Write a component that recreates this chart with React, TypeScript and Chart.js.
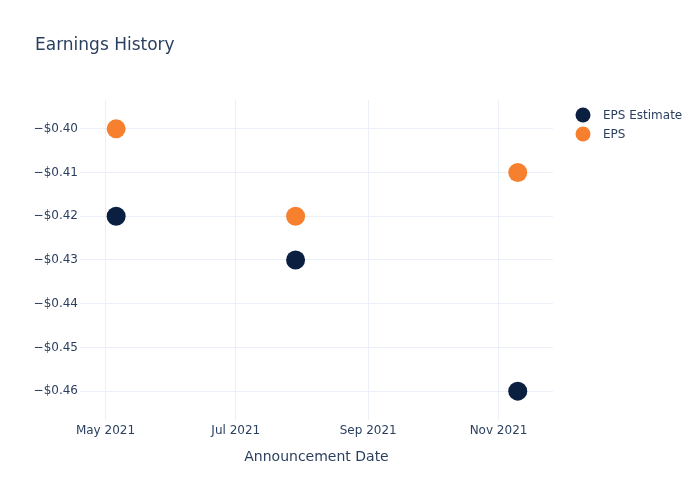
import React, { useEffect, useRef } from "react";
import { Chart, registerables } from "chart.js";

Chart.register(...registerables);

const announcementDates = ["2021-05-06", "2021-07-29", "2021-11-10"];
const epsEstimate = [-0.42, -0.43, -0.46];
const epsActual = [-0.4, -0.42, -0.41];
const seriesNames = ["EPS Estimate", "EPS"];
const seriesColors = ["#0b1f41", "#f7802f"];
const xTickDates = ["2021-05-01", "2021-07-01", "2021-09-01", "2021-11-01"];
const yTickValues = [-0.4, -0.41, -0.42, -0.43, -0.44, -0.45, -0.46];
const xRange = ["2021-04-19T02:00:00Z", "2021-11-26T12:00:00Z"];
const yRange = [-0.4666, -0.3934];
const titleText = "Earnings History";
const xAxisTitle = "Announcement Date";

const MONTHS = ["Jan", "Feb", "Mar", "Apr", "May", "Jun", "Jul", "Aug", "Sep", "Oct", "Nov", "Dec"];
const toMs = (s: string) => new Date(s.length === 10 ? s + "T00:00:00Z" : s).getTime();
const FONT = "'DejaVu Sans', sans-serif";
const TEXT = "#2a3f5f";
const GRID = "#ebf0f8";

const overlayPlugin = {
  id: "overlay",
  afterDraw(chart: any) {
    const ctx = chart.ctx;
    ctx.save();
    ctx.fillStyle = TEXT;
    ctx.font = `17px ${FONT}`;
    ctx.textBaseline = "middle";
    ctx.textAlign = "left";
    ctx.fillText(titleText, 35, 45.5);
    chart.data.datasets.forEach((ds: any, i: number) => {
      const y = 115 + i * 19;
      ctx.beginPath();
      ctx.arc(583, y, 7.5, 0, Math.PI * 2);
      ctx.fillStyle = ds.backgroundColor;
      ctx.fill();
      ctx.fillStyle = TEXT;
      ctx.font = `12px ${FONT}`;
      ctx.fillText(ds.label, 603, y + 1);
    });
    ctx.restore();
  },
};

export default function App() {
  const ref = useRef<HTMLCanvasElement>(null);
  useEffect(() => {
    const mk = (vals: number[]) => announcementDates.map((d, i) => ({ x: toMs(d), y: vals[i] }));
    const chart = new Chart(ref.current!, {
      type: "scatter",
      data: {
        datasets: [
          { label: seriesNames[0], data: mk(epsEstimate), backgroundColor: seriesColors[0], borderColor: seriesColors[0], pointRadius: 9.5, pointHoverRadius: 9.5, borderWidth: 0 },
          { label: seriesNames[1], data: mk(epsActual), backgroundColor: seriesColors[1], borderColor: seriesColors[1], pointRadius: 9.5, pointHoverRadius: 9.5, borderWidth: 0 },
        ],
      },
      options: {
        animation: false,
        responsive: false,
        maintainAspectRatio: false,
        layout: { padding: { top: 100, right: 147, left: 0, bottom: 0 } },
        plugins: { legend: { display: false }, title: { display: false }, tooltip: { enabled: false } },
        scales: {
          x: {
            type: "linear",
            min: toMs(xRange[0]),
            max: toMs(xRange[1]),
            border: { display: false },
            grid: { color: GRID, drawTicks: false },
            afterBuildTicks: (s: any) => {
              s.ticks = xTickDates.map((d) => ({ value: toMs(d) }));
            },
            afterFit: (s: any) => {
              s.height = 80;
            },
            ticks: {
              padding: 4,
              maxRotation: 0,
              autoSkip: false,
              color: TEXT,
              font: { family: FONT, size: 12 },
              callback: (v: any) => {
                const d = new Date(v);
                return `${MONTHS[d.getUTCMonth()]} ${d.getUTCFullYear()}`;
              },
            },
            title: { display: true, text: xAxisTitle, color: TEXT, font: { family: FONT, size: 14 }, padding: { top: 0, bottom: 34 } },
          },
          y: {
            min: yRange[0],
            max: yRange[1],
            border: { display: false },
            grid: { color: GRID, drawTicks: false },
            afterBuildTicks: (s: any) => {
              s.ticks = yTickValues.map((v) => ({ value: v }));
            },
            afterFit: (s: any) => {
              s.width = 80;
            },
            ticks: {
              padding: 2,
              color: TEXT,
              font: { family: FONT, size: 12 },
              callback: (v: any) => "\u2212$" + Math.abs(Number(v)).toFixed(2),
            },
          },
        },
      },
      plugins: [overlayPlugin],
    } as any);
    return () => chart.destroy();
  }, []);
  return (
    <div style={{ position: "absolute", left: 0, top: 0, width: 700, height: 500, background: "#fff" }}>
      <canvas ref={ref} width={700} height={500} style={{ width: 700, height: 500 }} />
    </div>
  );
}
